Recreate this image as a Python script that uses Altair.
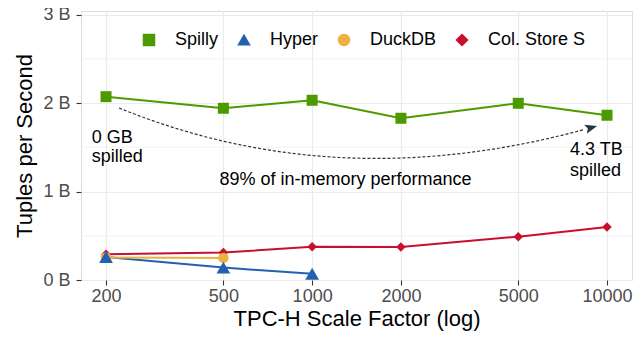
import altair as alt
import pandas as pd
import numpy as np

FONT = "Liberation Sans"

# ---- data ----
systems = ["Spilly", "Hyper", "DuckDB", "Col. Store S"]
colors = ["#4C9A00", "#2361B0", "#EDB142", "#C8102E"]
shapes = ["square", "triangle-up", "circle", "diamond"]
sizes = [121, 190, 110, 90]

sf_spilly = [200, 500, 1000, 2000, 5000, 10000]
tps_spilly = [2.072, 1.941, 2.031, 1.828, 1.997, 1.862]
sf_hyper = [200, 500, 1000]
tps_hyper = [0.26, 0.14, 0.07]
sf_duck = [200, 500]
tps_duck = [0.255, 0.25]
sf_col = [200, 500, 1000, 2000, 5000, 10000]
tps_col = [0.29, 0.31, 0.376, 0.373, 0.49, 0.60]

x_ticks = [200, 500, 1000, 2000, 5000, 10000]
y_ticks = [0, 1, 2, 3]
y_minor = [0.5, 1.5, 2.5]

ann_text = ["0 GB", "spilled", "4.3 TB", "spilled", "89% of in-memory performance"]
ann_x = [179, 179, 7489, 7489, 1298]
ann_y = [1.55, 1.33, 1.413, 1.17, 1.074]
ann_align = ["left", "left", "left", "left", "center"]

# curved arrow anchors (start, control, end) in data units
arrow_x = [221.4, 1263, 9247]
arrow_y = [1.944, 0.916, 1.741]

rows = []
for name, xs, ys in [("Spilly", sf_spilly, tps_spilly), ("Hyper", sf_hyper, tps_hyper),
                     ("DuckDB", sf_duck, tps_duck), ("Col. Store S", sf_col, tps_col)]:
    for a, b in zip(xs, ys):
        rows.append({"system": name, "sf": a, "tps": b})
df = pd.DataFrame(rows)

ann = pd.DataFrame({"text": ann_text, "x": ann_x, "y": ann_y, "align": ann_align})
minor_df = pd.DataFrame({"y": y_minor})


def bez(t):
    lx = np.log10(arrow_x)
    px = (1 - t) ** 2 * lx[0] + 2 * (1 - t) * t * lx[1] + t ** 2 * lx[2]
    py = (1 - t) ** 2 * arrow_y[0] + 2 * (1 - t) * t * arrow_y[1] + t ** 2 * arrow_y[2]
    return 10 ** px, py


ts = np.linspace(0, 0.975, 60)
cx, cy = bez(ts)
curve_df = pd.DataFrame({"x": cx, "y": cy, "i": range(len(ts))})
hx, hy = bez(np.array([0.986]))
head_df = pd.DataFrame({"x": hx, "y": hy})

xscale = alt.Scale(type="log", domain=[164.5, 12154], nice=False)
yscale = alt.Scale(domain=[0, 3.04], nice=False, zero=False)

color_scale = alt.Scale(domain=systems, range=colors)
shape_scale = alt.Scale(domain=systems, range=shapes)

xaxis = alt.Axis(values=x_ticks, format="d", title="TPC-H Scale Factor (log)",
                 labelFontSize=18, labelColor="#4d4d4d", titleFontSize=22,
                 titleFontWeight="normal", titleColor="black", tickColor="#333333",
                 tickSize=5, tickWidth=1.1, grid=True, gridColor="#ebebeb", gridWidth=1.2,
                 domain=False, labelPadding=2, titlePadding=3, labelFont=FONT, titleFont=FONT)
yaxis = alt.Axis(values=y_ticks, labelExpr="datum.value + ' B'", title="Tuples per Second",
                 labelFontSize=18, labelColor="#4d4d4d", titleFontSize=22,
                 titleFontWeight="normal", titleColor="black", tickColor="#333333",
                 tickSize=5, tickWidth=1.1, grid=True, gridColor="#ebebeb", gridWidth=1.2,
                 domain=False, labelPadding=6, titlePadding=6, labelFont=FONT, titleFont=FONT)

legend = alt.Legend(orient="none", legendX=59, legendY=20, direction="horizontal",
                    title=None, labelFontSize=18, labelColor="black", labelFont=FONT,
                    symbolSize=121, labelOffset=17, columnPadding=16)

minor = alt.Chart(minor_df).mark_rule(color="#ebebeb", strokeWidth=0.7).encode(
    y=alt.Y("y:Q", scale=yscale, axis=yaxis)
)

base = alt.Chart(df)
lines = base.mark_line(strokeWidth=2).encode(
    x=alt.X("sf:Q", scale=xscale, axis=xaxis),
    y=alt.Y("tps:Q", scale=yscale),
    color=alt.Color("system:N", scale=color_scale, legend=legend),
    detail="system:N",
)

point_layers = []
for name in ["Col. Store S", "DuckDB", "Hyper", "Spilly"]:
    sz = sizes[systems.index(name)]
    point_layers.append(
        base.transform_filter(alt.datum.system == name).mark_point(
            filled=True, opacity=1, size=sz
        ).encode(
            x=alt.X("sf:Q", scale=xscale),
            y=alt.Y("tps:Q", scale=yscale),
            color=alt.Color("system:N", scale=color_scale, legend=legend),
            shape=alt.Shape("system:N", scale=shape_scale, legend=legend),
        )
    )

curve = alt.Chart(curve_df).mark_line(color="#2d3340", strokeWidth=1.2, strokeDash=[3, 2]).encode(
    x=alt.X("x:Q", scale=xscale), y=alt.Y("y:Q", scale=yscale), order="i:Q"
)
head = alt.Chart(head_df).mark_point(
    shape="M0,-1L0.62,0.6L0,0.28L-0.62,0.6Z", filled=True, color="#2d3340",
    size=225, angle=74, opacity=1
).encode(x=alt.X("x:Q", scale=xscale), y=alt.Y("y:Q", scale=yscale))

texts = []
for al in ["left", "center"]:
    texts.append(
        alt.Chart(ann[ann["align"] == al]).mark_text(
            align=al, baseline="alphabetic", fontSize=18, font=FONT, color="black"
        ).encode(x=alt.X("x:Q", scale=xscale), y=alt.Y("y:Q", scale=yscale), text="text:N")
    )

chart = alt.layer(minor, lines, curve, head, *point_layers, *texts).properties(
    width=551, height=269,
    autosize=alt.AutoSizeParams(type="none"),
    padding={"left": 73, "top": 3, "right": 4, "bottom": 51},
).configure_view(stroke="#333333", strokeWidth=1.3).configure(font=FONT)

chart.save("out.html", embed_options={"renderer": "svg", "actions": False})
